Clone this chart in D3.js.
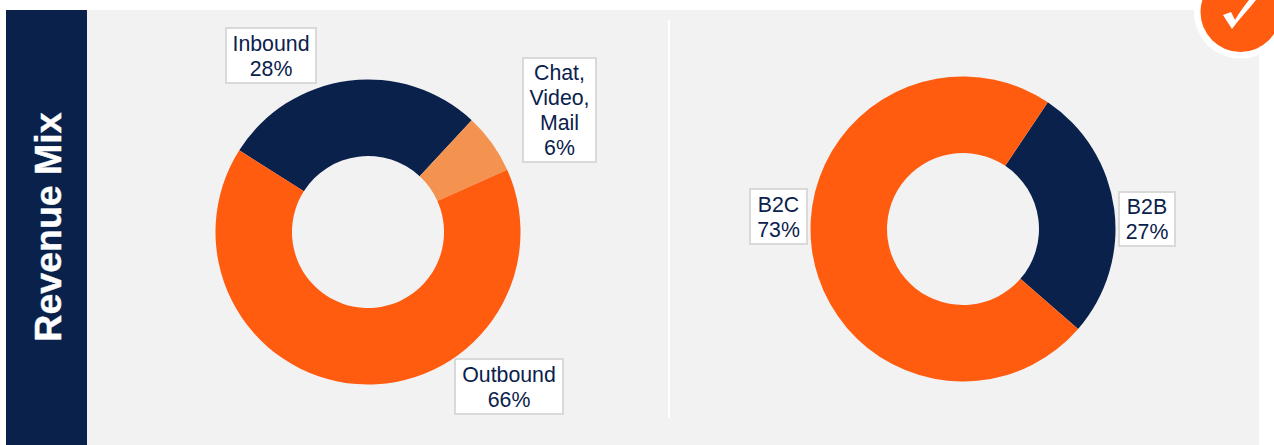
<!DOCTYPE html>
<html>
<head>
<meta charset="utf-8">
<script src="https://d3js.org/d3.v7.min.js"></script>
<style>
  html, body { margin: 0; padding: 0; background: #fff; overflow: hidden; }
  svg { display: block; }
  text { font-family: "Liberation Sans", Arial, sans-serif; }
</style>
</head>
<body>
<div id="chart"></div>
<script>
document.addEventListener('DOMContentLoaded', () => {
  // Data (labels show the rounded value)
  const channelNames = ["Inbound", "Chat, Video, Mail", "Outbound"];
  const channelValues = [27.9, 6.4, 65.7];
  const segmentNames = ["B2B", "B2C"];
  const segmentValues = [27, 73];

  const navy = "#0a214c";
  const orange = "#ff5c10";
  const lightOrange = "#f49350";

  const width = 1274;
  const height = 445;

  const svg = d3.select("#chart")
    .append("svg")
    .attr("width", width)
    .attr("height", height);

  // Panel and title band
  svg.append("rect").attr("x", 87).attr("y", 10).attr("width", 1172).attr("height", 435).attr("fill", "#f2f2f2");
  svg.append("rect").attr("x", 6).attr("y", 10).attr("width", 81).attr("height", 435).attr("fill", navy);
  svg.append("line")
    .attr("x1", 669).attr("x2", 669).attr("y1", 20).attr("y2", 418)
    .attr("stroke", "#fff").attr("stroke-width", 2);

  svg.append("text")
    .attr("transform", "translate(61,227) rotate(-90)")
    .attr("text-anchor", "middle")
    .attr("fill", "#fff")
    .attr("stroke", "#fff")
    .attr("stroke-width", 0.4)
    .attr("font-size", 37.5)
    .attr("font-weight", "bold")
    .text("Revenue Mix");

  const toRad = deg => deg * Math.PI / 180;
  const arc = d3.arc().innerRadius(76).outerRadius(152.5);

  function drawDonut(cx, cy, names, values, colors, startDeg) {
    const pie = d3.pie().sort(null)
      .startAngle(toRad(startDeg))
      .endAngle(toRad(startDeg + 360));
    const color = d3.scaleOrdinal().domain(names).range(colors);
    const g = svg.append("g").attr("transform", `translate(${cx},${cy})`);
    g.selectAll("path")
      .data(pie(values))
      .enter()
      .append("path")
      .attr("d", arc)
      .attr("fill", (d, i) => color(names[i]));
  }

  drawDonut(368, 232, channelNames, channelValues, [navy, lightOrange, orange], -57.6);
  drawDonut(963, 229, segmentNames, segmentValues, [navy, orange], 33.8);

  // Callout boxes: [x, y, w, h], then the lines of text
  function drawLabel(box, lines) {
    const [x, y, w, h] = box;
    const g = svg.append("g");
    g.append("rect")
      .attr("x", x).attr("y", y).attr("width", w).attr("height", h)
      .attr("fill", "#fff").attr("stroke", "#d9d9d9").attr("stroke-width", 2);
    const lineH = 24.8;
    const top = y + h / 2 - lineH * lines.length / 2;
    lines.forEach((t, i) => {
      g.append("text")
        .attr("x", x + w / 2)
        .attr("y", top + lineH * i + 20)
        .attr("text-anchor", "middle")
        .attr("fill", navy)
        .attr("font-size", 21.3)
        .text(t);
    });
  }

  const pct = v => Math.round(v) + "%";
  drawLabel([226, 28, 90, 55], [channelNames[0], pct(channelValues[0])]);
  drawLabel([523, 58, 73, 104], ["Chat,", "Video,", "Mail", pct(channelValues[1])]);
  drawLabel([455, 359, 108, 55], [channelNames[2], pct(channelValues[2])]);
  drawLabel([750, 189, 57, 55], [segmentNames[1], pct(segmentValues[1])]);
  drawLabel([1119, 192, 56, 54], [segmentNames[0], pct(segmentValues[0])]);

  // Check badge in the top right corner
  svg.append("circle").attr("cx", 1240.5).attr("cy", 12).attr("r", 46.5).attr("fill", "#fff");
  svg.append("circle").attr("cx", 1240.5).attr("cy", 12).attr("r", 40).attr("fill", orange);
  svg.append("path")
    .attr("d", "M1223,15 L1231,12 L1235,20 C1239,13 1244,6 1249,0 L1256,0 C1249,9 1240,18 1232,29 Z")
    .attr("fill", "#fff");
});
</script>
</body>
</html>
